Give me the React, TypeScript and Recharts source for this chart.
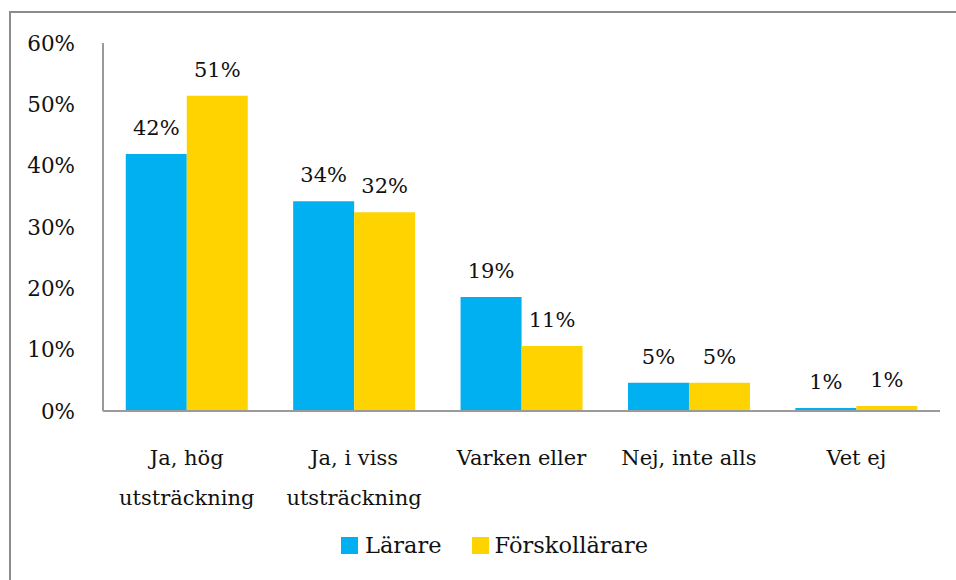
import { Bar, BarChart, Legend, XAxis, YAxis } from "recharts"

const categories = [
  "Ja, hög\nutsträckning",
  "Ja, i viss\nutsträckning",
  "Varken eller",
  "Nej, inte alls",
  "Vet ej",
]
const lararValues = [41.9, 34.2, 18.6, 4.6, 0.5]
const forskolaValues = [51.4, 32.4, 10.6, 4.6, 0.8]
const yTicks = [0, 10, 20, 30, 40, 50, 60]

const data = categories.map((name, i) => ({
  name,
  larare: lararValues[i],
  forskola: forskolaValues[i],
}))

const FONT = "'DejaVu Serif', serif"
const BLUE = "#00B0F0"
const YELLOW = "#FFD300"
const AXIS = "#9a9a9a"

const CategoryTick = (props: any) => {
  const { x, y, payload } = props
  const lines = String(payload.value).split("\n")
  return (
    <g>
      {lines.map((line: string, i: number) => (
        <text
          key={i}
          x={x}
          y={y + 46 + i * 40}
          textAnchor="middle"
          fontFamily={FONT}
          fontSize={21}
          fill="#111"
        >
          {line}
        </text>
      ))}
    </g>
  )
}

const ValueLabel = (props: any) => {
  const { x, y, width, value } = props
  return (
    <text
      x={x + width / 2}
      y={y - 19}
      textAnchor="middle"
      fontFamily={FONT}
      fontSize={21}
      fill="#111"
    >
      {Math.round(value)}%
    </text>
  )
}

const LegendContent = () => (
  <div
    style={{
      display: "flex",
      alignItems: "center",
      paddingLeft: 341,
      fontFamily: FONT,
      fontSize: 22.5,
      color: "#111",
      height: 30,
    }}
  >
    <span style={{ width: 17, height: 17, background: BLUE, marginRight: 7 }} />
    <span style={{ marginRight: 30 }}>Lärare</span>
    <span style={{ width: 17, height: 17, background: YELLOW, marginRight: 6 }} />
    <span>Förskollärare</span>
  </div>
)

export default function App() {
  return (
    <div style={{ position: "absolute", left: 0, top: 0, width: 956, height: 580, background: "#fff", overflow: "hidden" }}>
      {/* outer frame, cut off on the right and bottom like the original */}
      <div
        style={{
          position: "absolute",
          left: 9,
          top: 11,
          width: 1000,
          height: 700,
          borderTop: "2px solid #8c8c8c",
          borderLeft: "2px solid #8c8c8c",
        }}
      />
      <BarChart
        width={956}
        height={580}
        data={data}
        margin={{ top: 43, right: 16, left: 0, bottom: 0 }}
        barCategoryGap="13.6%"
        barGap={0}
        style={{ position: "absolute", left: 0, top: 0 }}
      >
        <XAxis
          dataKey="name"
          height={139}
          tickLine={false}
          axisLine={{ stroke: AXIS, strokeWidth: 2 }}
          tick={<CategoryTick />}
          interval={0}
        />
        <YAxis
          width={103}
          domain={[0, 60]}
          ticks={yTicks}
          tickFormatter={(v) => `${v}%`}
          tickLine={false}
          tickSize={0}
          tickMargin={28}
          axisLine={{ stroke: AXIS, strokeWidth: 2 }}
          tick={{ fontFamily: FONT, fontSize: 21.5, fill: "#111" }}
        />
        <Legend
          verticalAlign="bottom"
          content={<LegendContent />}
          wrapperStyle={{ height: 30, bottom: 20, left: 0, width: 956 }}
        />
        <Bar dataKey="larare" name="Lärare" fill={BLUE} isAnimationActive={false} label={<ValueLabel />} />
        <Bar dataKey="forskola" name="Förskollärare" fill={YELLOW} isAnimationActive={false} label={<ValueLabel />} />
      </BarChart>
    </div>
  )
}
